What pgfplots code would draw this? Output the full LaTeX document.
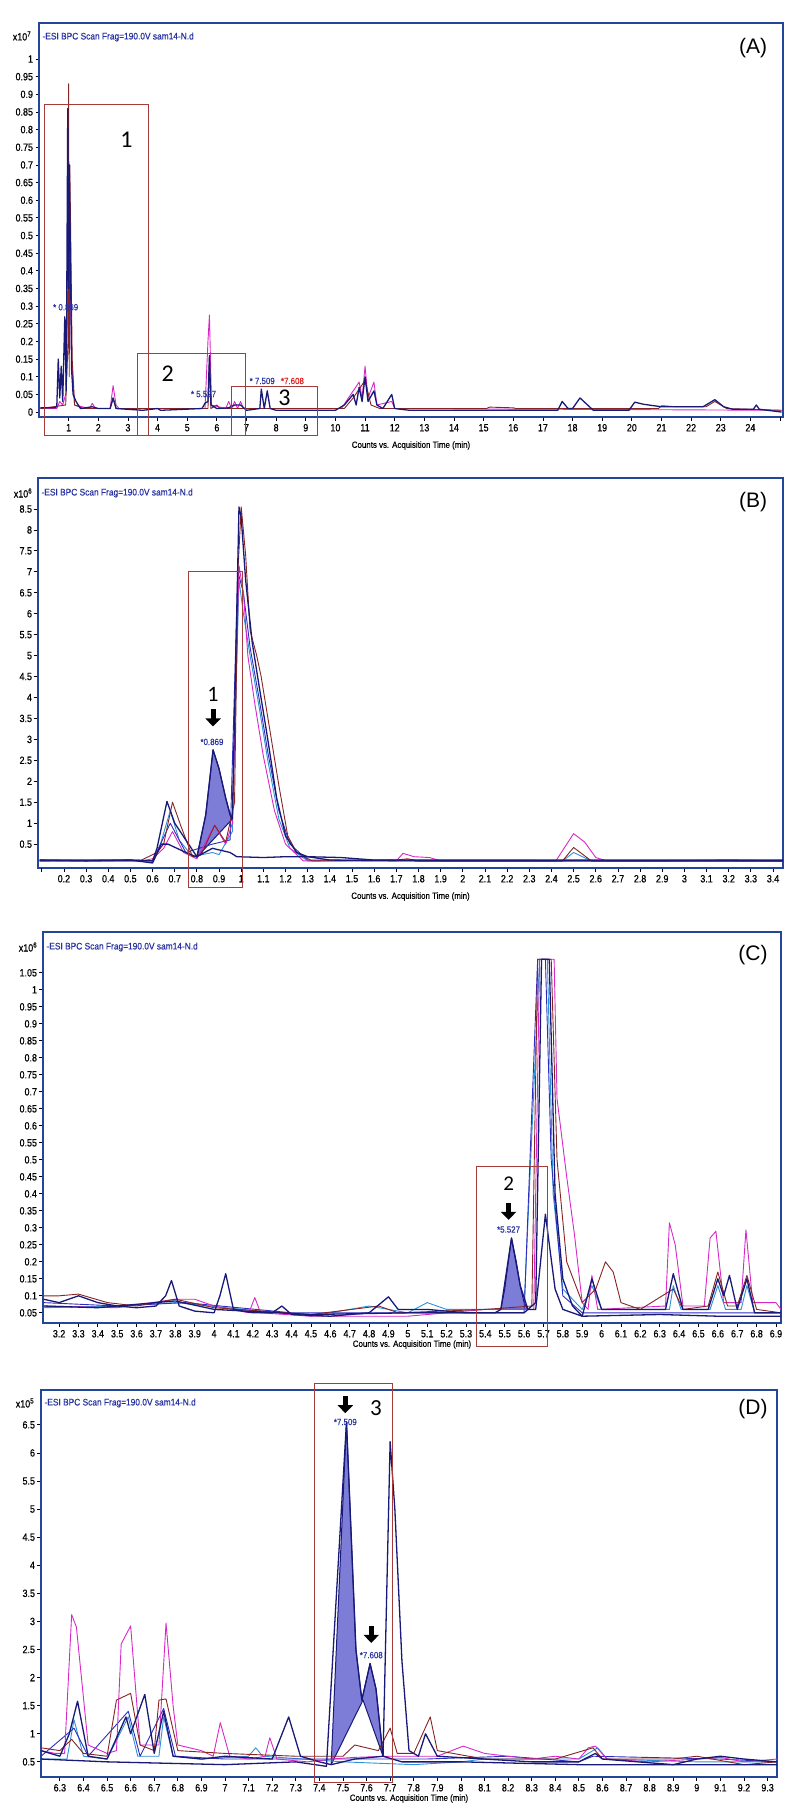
\documentclass[border=0pt]{standalone}
\usepackage{fontspec}
\setmainfont{Liberation Sans}
\newfontfamily\narrow{Liberation Sans}[FakeStretch=0.85, FakeBold=0.6]
\newfontfamily\narrowt{Liberation Sans}[FakeStretch=0.88, FakeBold=0.4]
\newfontfamily\calib{Carlito}
\usepackage{pgfplots}
\pgfplotsset{compat=1.18}
\usetikzlibrary{arrows.meta}

\definecolor{framec}{RGB}{35,70,155}
\definecolor{navyc}{RGB}{25,25,120}
\definecolor{magc}{RGB}{215,40,200}
\definecolor{redc}{RGB}{135,35,35}
\definecolor{lbluec}{RGB}{45,145,215}
\definecolor{bluec}{RGB}{45,45,190}
\definecolor{fillc}{RGB}{125,125,215}
\definecolor{boxc}{RGB}{165,60,60}
\definecolor{labblue}{RGB}{40,50,160}
\definecolor{labred}{RGB}{220,30,30}

\newcommand{\tf}{\narrow\fontsize{10.5}{11}\selectfont}

\pgfplotsset{
  chrom/.style={
    scale only axis, anchor=north west, clip=false,
    axis line style={framec, line width=1.6pt},
    tick style={black, line width=0.8pt},
    tick align=outside, major tick length=3.5pt,
    xtick pos=bottom, ytick pos=left,
    ticklabel style={font=\tf},
    yticklabel style={xshift=1pt},
    /pgf/number format/fixed, /pgf/number format/precision=2,
    /pgf/number format/assume math mode=true,
    xlabel={Counts vs. Acquisition Time (min)},
    xlabel style={font=\narrowt\fontsize{9}{10}\selectfont, yshift=4pt},
    every axis plot/.append style={line join=round},
  },
  tr/.style={line width=0.9pt},
  trn/.style={line width=1.3pt, navyc},
}
\newcommand{\scan}{-ESI BPC Scan Frag=190.0V sam14-N.d}

\begin{document}
\begin{tikzpicture}
\useasboundingbox (0,0) rectangle (796pt,-1820pt);

% ---------------- (A) ----------------
\begin{axis}[chrom, at={(39pt,-23pt)}, width=744pt, height=394pt,
  xmin=0, xmax=25.1, ymin=-0.014, ymax=1.102,
  xtick={1,2,...,24}, extra x ticks={25}, extra x tick labels={},
  ytick={0,0.05,0.1,0.15,0.2,0.25,0.3,0.35,0.4,0.45,0.5,0.55,0.6,0.65,0.7,0.75,0.8,0.85,0.9,0.95,1}]
\addplot[tr, magc] coordinates {(0.05,0.01)(0.6,0.01)(0.7,0.03)(0.8,0.02)(0.9,0.05)(0.97,0.35)(1.0,0.55)(1.03,0.5)(1.1,0.15)(1.2,0.02)(1.7,0.01)(1.8,0.025)(1.9,0.01)(2.4,0.01)(2.5,0.075)(2.6,0.02)(2.7,0.01)(5.6,0.01)(5.7,0.2)(5.75,0.275)(5.82,0.02)(6.3,0.01)(6.4,0.03)(6.5,0.01)(6.6,0.03)(6.7,0.01)(6.8,0.03)(6.9,0.01)(10.2,0.01)(10.6,0.06)(10.8,0.085)(10.9,0.04)(11.0,0.13)(11.1,0.04)(11.3,0.085)(11.4,0.02)(11.9,0.03)(12.0,0.01)(25.05,0.005)};
\addplot[tr, redc] coordinates {(0.05,0.01)(0.9,0.02)(0.98,0.2)(1.0,0.93)(1.02,0.1)(1.04,0.70)(1.07,0.5)(1.12,0.15)(1.2,0.02)(1.5,0.01)(2.4,0.01)(2.5,0.04)(2.6,0.01)(5.7,0.01)(5.75,0.15)(5.8,0.01)(6.0,0.02)(6.1,0.01)(10.3,0.01)(10.6,0.04)(11.0,0.09)(11.2,0.02)(11.5,0.01)(15.1,0.01)(15.2,0.014)(16,0.012)(16.1,0.01)(20.9,0.01)(21,0.018)(21.5,0.015)(22.5,0.015)(22.8,0.03)(23.2,0.01)(25.05,0.005)};
\addplot[trn] coordinates {(0.05,0.012)(0.5,0.012)(0.6,0.015)(0.65,0.15)(0.7,0.04)(0.75,0.13)(0.8,0.03)(0.87,0.27)(0.92,0.06)(0.97,0.86)(1.0,0.35)(1.02,0.70)(1.06,0.45)(1.1,0.12)(1.15,0.05)(1.25,0.03)(1.4,0.01)(1.8,0.015)(2.0,0.01)(2.4,0.01)(2.5,0.04)(2.6,0.01)(3.5,0.005)(4.0,0.01)(4.1,0.005)(5.5,0.01)(5.6,0.025)(5.7,0.03)(5.75,0.16)(5.8,0.02)(6.0,0.01)(6.4,0.012)(6.6,0.02)(6.8,0.02)(7.0,0.005)(7.45,0.01)(7.5,0.065)(7.6,0.01)(7.7,0.06)(7.8,0.01)(8.0,0.005)(10.0,0.005)(10.3,0.02)(10.6,0.05)(10.7,0.02)(10.8,0.07)(10.9,0.03)(11.0,0.10)(11.1,0.03)(11.3,0.06)(11.4,0.02)(11.6,0.01)(11.9,0.05)(12.0,0.01)(12.5,0.005)(15.0,0.005)(17.5,0.005)(17.65,0.03)(17.85,0.01)(18.0,0.01)(18.25,0.04)(18.7,0.005)(19.9,0.005)(20.1,0.028)(20.4,0.022)(21.0,0.015)(22.4,0.015)(22.8,0.035)(23.1,0.015)(23.4,0.008)(24.1,0.008)(24.2,0.02)(24.3,0.008)(25.05,0.0)};
\draw[boxc, line width=1pt] (axis cs:0.19,-0.065) rectangle (axis cs:3.69,0.87);
\draw[boxc, line width=1pt] (axis cs:3.33,-0.065) rectangle (axis cs:6.97,0.167);
\draw[boxc, line width=1pt] (axis cs:6.5,-0.065) rectangle (axis cs:9.4,0.071);
\node[font=\calib\fontsize{24}{24}\selectfont] at (axis cs:2.95,0.77) {1};
\node[font=\calib\fontsize{24}{24}\selectfont] at (axis cs:4.34,0.11) {2};
\node[font=\calib\fontsize{24}{24}\selectfont] at (axis cs:8.28,0.04) {3};
\node[font=\narrowt\fontsize{9}{10}\selectfont, text=labblue] at (axis cs:0.9,0.297) {* 0.869};
\node[font=\narrowt\fontsize{9}{10}\selectfont, text=labblue] at (axis cs:5.55,0.051) {* 5.527};
\node[font=\narrowt\fontsize{9}{10}\selectfont, text=labblue] at (axis cs:7.53,0.088) {* 7.509};
\node[font=\narrowt\fontsize{9}{10}\selectfont, text=labred] at (axis cs:8.55,0.088) {*7.608};
\node[anchor=west, font=\narrowt\fontsize{9.5}{10}\selectfont, text=labblue] at ([xshift=0pt,yshift=-14pt]rel axis cs:0,1) {\scan};
\node[font=\tf] at ([xshift=-17pt,yshift=-13pt]rel axis cs:0,1) {x10\textsuperscript{7}};
\node[font=\fontsize{21}{21}\selectfont] at ([xshift=-30pt,yshift=-25pt]rel axis cs:1,1) {(A)};
\end{axis}

% ---------------- (B) ----------------
\begin{axis}[chrom, at={(38pt,-478pt)}, width=745pt, height=390pt,
  xmin=0.083, xmax=3.445, ymin=-0.07, ymax=9.24,
  xtick={0.2,0.3,0.4,0.5,0.6,0.7,0.8,0.9,1,1.1,1.2,1.3,1.4,1.5,1.6,1.7,1.8,1.9,2,2.1,2.2,2.3,2.4,2.5,2.6,2.7,2.8,2.9,3,3.1,3.2,3.3,3.4},
  extra x ticks={0.1}, extra x tick labels={},
  ytick={0.5,1,1.5,2,2.5,3,3.5,4,4.5,5,5.5,6,6.5,7,7.5,8,8.5}]
\addplot[fill=fillc, draw=navyc, line width=1pt] coordinates {(0.80,0.19)(0.84,1.2)(0.873,2.75)(0.9,2.3)(0.93,1.6)(0.95,1.2)(0.96,1.1)(0.80,0.19)};
\addplot[tr, lbluec] coordinates {(0.09,0.1)(0.6,0.1)(0.63,0.4)(0.68,1.3)(0.72,0.6)(0.78,0.2)(0.87,0.3)(0.9,0.25)(0.96,0.8)(0.99,6.8)(1.01,6.0)(1.04,5.0)(1.08,3.8)(1.12,2.5)(1.17,1.1)(1.22,0.4)(1.3,0.1)(2.45,0.1)(2.5,0.3)(2.58,0.1)(3.445,0.1)};
\addplot[tr, bluec] coordinates {(0.09,0.1)(0.6,0.1)(0.68,1.0)(0.75,0.3)(0.87,0.5)(0.95,0.6)(0.985,7.0)(1.01,6.5)(1.04,5.2)(1.08,4.0)(1.12,2.7)(1.17,1.3)(1.22,0.5)(1.3,0.12)(3.445,0.1)};
\addplot[tr, magc] coordinates {(0.09,0.1)(0.55,0.1)(0.6,0.15)(0.65,0.4)(0.69,0.8)(0.74,0.3)(0.8,0.15)(0.88,0.95)(0.93,0.5)(0.96,1.0)(0.99,7.15)(1.01,6.5)(1.03,5.0)(1.06,3.9)(1.1,2.6)(1.15,1.3)(1.2,0.5)(1.28,0.1)(1.7,0.1)(1.73,0.28)(1.78,0.2)(1.85,0.18)(1.9,0.1)(2.42,0.1)(2.5,0.75)(2.55,0.55)(2.6,0.18)(2.65,0.1)(3.445,0.1)};
\addplot[tr, redc] coordinates {(0.09,0.1)(0.55,0.12)(0.62,0.3)(0.65,0.5)(0.69,1.5)(0.73,0.9)(0.78,0.2)(0.82,0.25)(0.88,0.95)(0.93,0.55)(0.97,1.5)(0.985,7.0)(1.0,8.55)(1.02,7.4)(1.04,5.6)(1.07,5.0)(1.09,4.5)(1.13,3.2)(1.17,1.9)(1.21,0.7)(1.25,0.3)(1.32,0.1)(1.7,0.12)(1.75,0.15)(1.8,0.1)(2.45,0.1)(2.5,0.42)(2.58,0.1)(2.9,0.1)(3.2,0.12)(3.445,0.1)};
\addplot[trn] coordinates {(0.09,0.12)(0.5,0.12)(0.6,0.1)(0.62,0.4)(0.665,1.52)(0.7,1.0)(0.8,0.2)(0.87,0.4)(0.95,0.3)(0.98,0.2)(1.1,0.18)(1.2,0.2)(1.3,0.2)(1.45,0.18)(1.6,0.12)(3.445,0.12)};
\addplot[trn] coordinates {(0.09,0.12)(0.3,0.1)(0.5,0.12)(0.6,0.05)(0.64,0.5)(0.67,0.5)(0.75,0.3)(0.8,0.19)(0.84,1.2)(0.873,2.75)(0.9,2.3)(0.93,1.6)(0.95,1.2)(0.96,1.1)(0.99,8.55)(1.0,8.3)(1.02,6.8)(1.05,5.3)(1.08,4.3)(1.12,3.0)(1.16,1.6)(1.2,0.7)(1.25,0.3)(1.3,0.2)(1.4,0.12)(1.8,0.1)(3.445,0.1)};
\draw[boxc, line width=1pt] (axis cs:0.76,-0.53) rectangle (axis cs:1.0036,7.02);
\node[font=\calib\fontsize{22}{22}\selectfont] at (axis cs:0.873,4.08) {1};
\draw[line width=5pt, -{Triangle[width=15pt,length=8pt]}] ([yshift=9pt]axis cs:0.873,3.5) -- ([yshift=-8pt]axis cs:0.873,3.5);
\node[font=\narrowt\fontsize{9}{10}\selectfont, text=labblue] at (axis cs:0.868,2.94) {*0.869};
\node[anchor=west, font=\narrowt\fontsize{9.5}{10}\selectfont, text=labblue] at ([xshift=0pt,yshift=-15pt]rel axis cs:0,1) {\scan};
\node[font=\tf] at ([xshift=-15pt,yshift=-15pt]rel axis cs:0,1) {x10\textsuperscript{6}};
\node[font=\fontsize{21}{21}\selectfont] at ([xshift=-30pt,yshift=-24pt]rel axis cs:1,1) {(B)};
\end{axis}

% ---------------- (C) ----------------
\begin{axis}[chrom, at={(43pt,-932pt)}, width=738pt, height=391pt,
  xmin=3.117, xmax=6.926, ymin=0.02, ymax=1.17,
  xtick={3.2,3.3,3.4,3.5,3.6,3.7,3.8,3.9,4,4.1,4.2,4.3,4.4,4.5,4.6,4.7,4.8,4.9,5,5.1,5.2,5.3,5.4,5.5,5.6,5.7,5.8,5.9,6,6.1,6.2,6.3,6.4,6.5,6.6,6.7,6.8,6.9},
  ytick={0.05,0.1,0.15,0.2,0.25,0.3,0.35,0.4,0.45,0.5,0.55,0.6,0.65,0.7,0.75,0.8,0.85,0.9,0.95,1,1.05}]
\addplot[fill=fillc, draw=navyc, line width=1pt] coordinates {(5.48,0.06)(5.5,0.12)(5.535,0.27)(5.56,0.2)(5.58,0.13)(5.6,0.08)(5.62,0.06)(5.48,0.06)};
\addplot[tr, lbluec] coordinates {(3.12,0.065)(3.5,0.07)(3.8,0.08)(4.5,0.04)(4.8,0.07)(5.0,0.05)(5.1,0.08)(5.2,0.06)(5.6,0.06)(5.68,1.09)(5.72,1.09)(5.75,0.4)(5.8,0.12)(5.9,0.06)(5.95,0.13)(6.0,0.06)(6.35,0.06)(6.37,0.13)(6.41,0.06)(6.56,0.06)(6.6,0.13)(6.64,0.06)(6.72,0.06)(6.75,0.13)(6.79,0.05)(6.926,0.05)};
\addplot[tr, bluec] coordinates {(3.12,0.08)(3.5,0.07)(3.85,0.08)(4.4,0.05)(5.0,0.05)(5.6,0.05)(5.67,1.09)(5.71,1.09)(5.74,0.5)(5.8,0.1)(5.9,0.05)(6.5,0.05)(6.926,0.05)};
\addplot[tr, magc] coordinates {(3.12,0.07)(3.5,0.065)(3.8,0.09)(3.9,0.09)(4.0,0.07)(4.18,0.05)(4.21,0.095)(4.24,0.05)(4.5,0.04)(5.0,0.04)(5.4,0.06)(5.65,0.06)(5.68,1.09)(5.755,1.09)(5.77,0.68)(5.82,0.45)(5.86,0.28)(5.9,0.08)(5.93,0.06)(5.95,0.16)(5.98,0.06)(6.33,0.07)(6.35,0.315)(6.38,0.25)(6.42,0.07)(6.53,0.07)(6.56,0.27)(6.59,0.29)(6.63,0.08)(6.72,0.08)(6.745,0.294)(6.78,0.08)(6.9,0.08)(6.926,0.06)};
\addplot[tr, redc] coordinates {(3.12,0.1)(3.2,0.1)(3.3,0.105)(3.45,0.08)(3.6,0.07)(3.8,0.09)(4.0,0.065)(4.5,0.045)(4.85,0.07)(4.95,0.05)(5.4,0.06)(5.64,0.07)(5.67,1.09)(5.74,1.09)(5.77,0.5)(5.82,0.2)(5.9,0.08)(5.97,0.12)(6.02,0.2)(6.06,0.17)(6.1,0.08)(6.2,0.06)(6.37,0.12)(6.42,0.06)(6.55,0.07)(6.6,0.17)(6.65,0.07)(6.7,0.07)(6.75,0.16)(6.8,0.06)(6.926,0.05)};
\addplot[trn] coordinates {(3.12,0.07)(3.4,0.065)(3.8,0.085)(4.0,0.06)(4.5,0.045)(5.0,0.05)(5.45,0.05)(5.48,0.06)(5.535,0.27)(5.58,0.13)(5.62,0.06)(5.66,0.06)(5.71,0.34)(5.76,0.12)(5.8,0.06)(5.9,0.04)(6.3,0.045)(6.6,0.04)(6.926,0.04)};
\addplot[trn] coordinates {(3.12,0.09)(3.2,0.08)(3.3,0.1)(3.4,0.08)(3.5,0.07)(3.6,0.065)(3.7,0.07)(3.75,0.1)(3.78,0.145)(3.82,0.07)(3.9,0.055)(4.0,0.05)(4.03,0.1)(4.06,0.165)(4.1,0.06)(4.2,0.05)(4.3,0.05)(4.35,0.07)(4.4,0.045)(4.6,0.04)(4.8,0.05)(4.9,0.097)(4.95,0.06)(5.1,0.06)(5.3,0.05)(5.6,0.05)(5.66,0.08)(5.69,1.09)(5.73,1.09)(5.76,0.4)(5.8,0.15)(5.85,0.07)(5.9,0.04)(5.95,0.15)(6.0,0.06)(6.33,0.06)(6.37,0.165)(6.42,0.06)(6.55,0.06)(6.6,0.15)(6.63,0.1)(6.66,0.16)(6.7,0.06)(6.75,0.15)(6.79,0.05)(6.926,0.05)};
\draw[boxc, line width=1pt] (axis cs:5.355,-0.05) rectangle (axis cs:5.72,0.48);
\node[font=\calib\fontsize{21}{21}\selectfont] at (axis cs:5.52,0.43) {2};
\draw[line width=5pt, -{Triangle[width=15pt,length=8pt]}] ([yshift=9pt]axis cs:5.52,0.347) -- ([yshift=-8pt]axis cs:5.52,0.347);
\node[font=\narrowt\fontsize{9}{10}\selectfont, text=labblue] at (axis cs:5.52,0.295) {*5.527};
\node[anchor=west, font=\narrowt\fontsize{9.5}{10}\selectfont, text=labblue] at ([xshift=0pt,yshift=-15pt]rel axis cs:0,1) {\scan};
\node[font=\tf] at ([xshift=-15pt,yshift=-15pt]rel axis cs:0,1) {x10\textsuperscript{6}};
\node[font=\fontsize{21}{21}\selectfont] at ([xshift=-28pt,yshift=-23pt]rel axis cs:1,1) {(C)};
\end{axis}

% ---------------- (D) ----------------
\begin{axis}[chrom, at={(41pt,-1390pt)}, width=736pt, height=387pt,
  xmin=6.22, xmax=9.34, ymin=0.23, ymax=7.12,
  xtick={6.3,6.4,6.5,6.6,6.7,6.8,6.9,7,7.1,7.2,7.3,7.4,7.5,7.6,7.7,7.8,7.9,8,8.1,8.2,8.3,8.4,8.5,8.6,8.7,8.8,8.9,9,9.1,9.2,9.3},
  ytick={0.5,1,1.5,2,2.5,3,3.5,4,4.5,5,5.5,6,6.5}]
\addplot[fill=fillc, draw=navyc, line width=1pt] coordinates {(7.45,0.45)(7.515,6.55)(7.555,2.5)(7.58,1.6)(7.615,2.25)(7.64,1.8)(7.67,0.6)(7.585,1.6)(7.45,0.45)};
\addplot[tr, lbluec] coordinates {(6.22,0.55)(6.33,0.55)(6.36,1.25)(6.4,0.6)(6.5,0.55)(6.59,1.3)(6.63,0.6)(6.72,0.6)(6.74,1.3)(6.78,0.6)(6.9,0.55)(7.1,0.6)(7.13,0.75)(7.16,0.6)(7.5,0.5)(7.8,0.45)(8.0,0.5)(8.1,0.55)(8.5,0.55)(8.58,0.75)(8.62,0.55)(9.0,0.5)(9.34,0.5)};
\addplot[tr, bluec] coordinates {(6.22,0.6)(6.36,1.1)(6.42,0.6)(6.59,1.4)(6.64,0.6)(6.74,1.45)(6.79,0.6)(7.0,0.55)(7.5,0.55)(7.85,0.55)(8.2,0.6)(8.5,0.5)(8.56,0.6)(9.1,0.55)(9.34,0.5)};
\addplot[tr, magc] coordinates {(6.22,0.7)(6.28,0.65)(6.32,0.65)(6.35,3.12)(6.37,2.9)(6.42,0.8)(6.5,0.65)(6.54,0.7)(6.56,2.6)(6.6,2.92)(6.64,0.8)(6.72,0.8)(6.75,2.97)(6.78,1.5)(6.8,0.8)(6.9,0.7)(6.95,0.6)(6.98,1.2)(7.02,0.6)(7.1,0.55)(7.17,0.6)(7.19,0.93)(7.22,0.55)(7.35,0.5)(7.45,0.55)(7.55,0.58)(7.7,0.6)(7.9,0.6)(8.01,0.78)(8.1,0.65)(8.2,0.6)(8.3,0.55)(8.4,0.6)(8.5,0.55)(8.54,0.75)(8.57,0.78)(8.62,0.55)(8.8,0.5)(9.0,0.55)(9.1,0.58)(9.2,0.5)(9.34,0.55)};
\addplot[tr, redc] coordinates {(6.22,0.75)(6.3,0.7)(6.35,0.9)(6.4,0.65)(6.5,0.6)(6.54,1.6)(6.6,1.72)(6.64,0.8)(6.7,0.7)(6.72,1.6)(6.75,1.62)(6.8,0.7)(7.0,0.65)(7.3,0.6)(7.5,0.6)(7.55,0.8)(7.65,0.7)(7.7,1.1)(7.73,0.65)(7.8,0.65)(7.87,1.3)(7.9,0.7)(8.1,0.55)(8.4,0.55)(8.56,0.75)(8.6,0.55)(8.9,0.55)(9.0,0.6)(9.2,0.45)(9.34,0.5)};
\addplot[trn] coordinates {(6.22,0.55)(6.5,0.5)(7.0,0.45)(7.3,0.5)(7.43,0.42)(7.515,6.55)(7.555,2.5)(7.58,1.6)(7.615,2.25)(7.64,1.8)(7.67,0.6)(7.75,0.5)(8.0,0.5)(8.5,0.45)(9.34,0.45)};
\addplot[trn] coordinates {(6.22,0.7)(6.3,0.6)(6.34,1.0)(6.375,1.58)(6.42,0.6)(6.5,0.55)(6.58,1.3)(6.6,1.0)(6.66,1.7)(6.7,0.65)(6.74,1.4)(6.78,0.6)(6.9,0.55)(7.0,0.6)(7.2,0.55)(7.27,1.3)(7.32,0.6)(7.4,0.5)(7.45,0.45)(7.55,0.55)(7.67,0.6)(7.7,6.2)(7.72,5.0)(7.75,2.3)(7.78,0.7)(7.82,0.6)(7.85,1.0)(7.9,0.6)(8.1,0.55)(8.3,0.5)(8.5,0.5)(8.57,0.65)(8.6,0.55)(8.9,0.45)(9.0,0.55)(9.1,0.6)(9.2,0.55)(9.34,0.5)};
\draw[boxc, line width=1pt] (axis cs:7.38,0.14) rectangle (axis cs:7.71,7.24);
\node[font=\calib\fontsize{23}{23}\selectfont] at (axis cs:7.64,6.8) {3};
\draw[line width=5pt, -{Triangle[width=15pt,length=8pt]}] ([yshift=9pt]axis cs:7.51,6.85) -- ([yshift=-8pt]axis cs:7.51,6.85);
\node[font=\narrowt\fontsize{9}{10}\selectfont, text=labblue] at (axis cs:7.51,6.55) {*7.509};
\draw[line width=5pt, -{Triangle[width=15pt,length=8pt]}] ([yshift=9pt]axis cs:7.62,2.76) -- ([yshift=-8pt]axis cs:7.62,2.76);
\node[font=\narrowt\fontsize{9}{10}\selectfont, text=labblue] at (axis cs:7.62,2.4) {*7.608};
\node[anchor=west, font=\narrowt\fontsize{9.5}{10}\selectfont, text=labblue] at ([xshift=0pt,yshift=-13pt]rel axis cs:0,1) {\scan};
\node[font=\tf] at ([xshift=-16pt,yshift=-13pt]rel axis cs:0,1) {x10\textsuperscript{5}};
\node[font=\fontsize{21}{21}\selectfont] at ([xshift=-24pt,yshift=-19pt]rel axis cs:1,1) {(D)};
\end{axis}
\end{tikzpicture}
\end{document}
